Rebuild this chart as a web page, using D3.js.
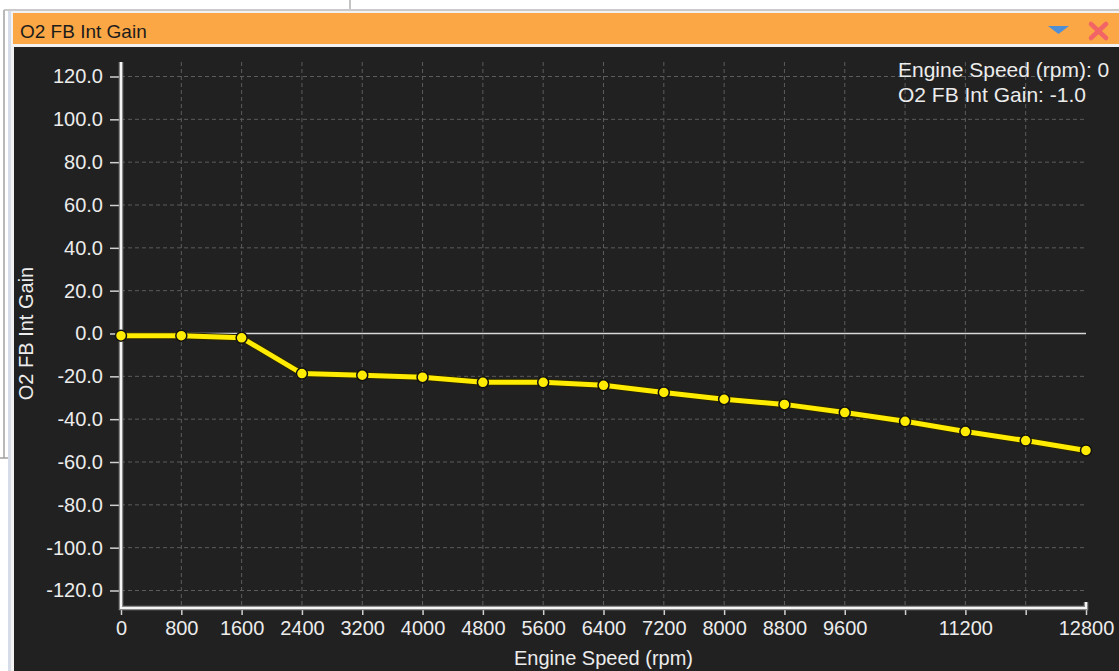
<!DOCTYPE html>
<html>
<head>
<meta charset="utf-8">
<script src="https://cdn.jsdelivr.net/npm/d3@7"></script>
<style>
  html, body { margin: 0; padding: 0; background: #ffffff; }
  svg { display: block; font-family: "Liberation Sans", Arial, sans-serif; }
</style>
</head>
<body>
<svg id="chart" width="1119" height="671"></svg>
<script>
// ---- data ----
const chartTitle = "O2 FB Int Gain";
const xTitle = "Engine Speed (rpm)";
const yTitle = "O2 FB Int Gain";
const rpm = [0, 800, 1600, 2400, 3200, 4000, 4800, 5600, 6400, 7200, 8000, 8800, 9600, 10400, 11200, 12000, 12800];
const gain = [-1.0, -1.0, -2.0, -18.7, -19.5, -20.4, -22.8, -22.8, -24.2, -27.5, -30.7, -33.1, -36.9, -41.0, -45.8, -50.0, -54.6];
const xTickValues = [0, 800, 1600, 2400, 3200, 4000, 4800, 5600, 6400, 7200, 8000, 8800, 9600, 10400, 11200, 12000, 12800];
const xTickLabels = ["0", "800", "1600", "2400", "3200", "4000", "4800", "5600", "6400", "7200", "8000", "8800", "9600", "", "11200", "", "12800"];
const yTickValues = [120, 100, 80, 60, 40, 20, 0, -20, -40, -60, -80, -100, -120];
const yTickLabels = ["120.0", "100.0", "80.0", "60.0", "40.0", "20.0", "0.0", "-20.0", "-40.0", "-60.0", "-80.0", "-100.0", "-120.0"];
const readoutLines = ["Engine Speed (rpm): 0", "O2 FB Int Gain: -1.0"];

const svg = d3.select("#chart");
const W = 1119, H = 671;

// ---- window chrome ----
svg.append("rect").attr("x", 0).attr("y", 0).attr("width", W).attr("height", H).attr("fill", "#ffffff");
svg.append("line").attr("x1", 4).attr("x2", 4).attr("y1", 10).attr("y2", 458).attr("stroke", "#a0a0a0").attr("stroke-width", 1.5);
svg.append("line").attr("x1", 0).attr("x2", 8).attr("y1", 458).attr("y2", 458).attr("stroke", "#a0a0a0").attr("stroke-width", 1.5);
svg.append("line").attr("x1", 4).attr("x2", W).attr("y1", 10).attr("y2", 10).attr("stroke", "#b8b8b8").attr("stroke-width", 1.5);
svg.append("line").attr("x1", 350).attr("x2", 350).attr("y1", 0).attr("y2", 9).attr("stroke", "#888").attr("stroke-width", 1);
// frame border
svg.append("rect").attr("x", 8).attr("y", 11).attr("width", W - 8).attr("height", H - 11).attr("fill", "#d6dde8");
svg.append("rect").attr("x", 11).attr("y", 11).attr("width", W - 11).attr("height", H - 11).attr("fill", "#f2f2f2");
// title bar
svg.append("rect").attr("x", 13).attr("y", 13).attr("width", W - 13).attr("height", 31).attr("fill", "#fba745");
svg.append("text").attr("x", 20).attr("y", 38).attr("font-size", 19).attr("fill", "#1c1c1c").text(chartTitle);
// blue triangle icon
svg.append("path").attr("d", "M1048,26 L1069,26 L1058.5,34 Z").attr("fill", "#4f8fd6");
// red x icon
const xg = svg.append("g").attr("stroke", "#f26466").attr("stroke-width", 4.5).attr("stroke-linecap", "round");
xg.append("line").attr("x1", 1091).attr("y1", 24).attr("x2", 1106).attr("y2", 38);
xg.append("line").attr("x1", 1106).attr("y1", 24).attr("x2", 1091).attr("y2", 38);
// dark plot background
svg.append("rect").attr("x", 14).attr("y", 47).attr("width", W - 14).attr("height", H - 47).attr("fill", "#212121");

// ---- scales ----
const x = d3.scaleLinear().domain([0, 12800]).range([121, 1086]);
const y = d3.scaleLinear().domain([-120, 120]).range([590.5, 76.5]);
const axisTop = 62, axisBottom = 608;

// ---- grid ----
const grid = svg.append("g");
grid.selectAll("line.vg").data(xTickValues.filter(v => v > 0 && v < 12800)).enter().append("line")
  .attr("x1", d => x(d)).attr("x2", d => x(d)).attr("y1", axisTop).attr("y2", axisBottom)
  .attr("stroke", "#5c5c5c").attr("stroke-width", 1).attr("stroke-dasharray", "4,3");
grid.selectAll("line.hg").data(yTickValues.filter(v => v !== 0)).enter().append("line")
  .attr("x1", x(0)).attr("x2", x(12800)).attr("y1", d => y(d)).attr("y2", d => y(d))
  .attr("stroke", "#5c5c5c").attr("stroke-width", 1).attr("stroke-dasharray", "4,3");
// zero line
svg.append("line").attr("x1", x(0)).attr("x2", x(12800)).attr("y1", y(0)).attr("y2", y(0))
  .attr("stroke", "#d8d8d8").attr("stroke-width", 1.5);

// ---- axes ----
const yAxis = d3.axisLeft(y).tickValues(yTickValues).tickFormat((d, i) => yTickLabels[i]).tickSize(9).tickPadding(7);
const gy = svg.append("g").attr("transform", `translate(${x(0) - 2},0)`).call(yAxis);
gy.select(".domain").remove();
gy.selectAll(".tick line").attr("stroke", "#d0d0d0").attr("stroke-width", 1.5);
gy.selectAll(".tick text").attr("fill", "#ececec").attr("font-size", 20)
  .attr("font-family", "'Liberation Sans', Arial, sans-serif");

const xAxis = d3.axisBottom(x).tickValues(xTickValues)
  .tickFormat((d, i) => xTickLabels[i]).tickSize(7).tickPadding(6);
const gx = svg.append("g").attr("transform", `translate(0,${axisBottom})`).call(xAxis);
gx.select(".domain").remove();
gx.selectAll(".tick line").attr("stroke", "#d0d0d0").attr("stroke-width", 1.5);
gx.selectAll(".tick text").attr("fill", "#ececec").attr("font-size", 20)
  .attr("font-family", "'Liberation Sans', Arial, sans-serif");

// axis lines (3D style)
const axisPath = `M${x(0)},${axisTop} L${x(0)},${axisBottom} L${x(12800)},${axisBottom} L${x(12800)},${axisBottom - 6}`;
svg.append("path").attr("d", axisPath).attr("fill", "none").attr("stroke", "#8a8a8a").attr("stroke-width", 4.5);
svg.append("path").attr("d", axisPath).attr("fill", "none").attr("stroke", "#f4f4f4").attr("stroke-width", 2);

// axis titles
svg.append("text").attr("x", (x(0) + x(12800)) / 2).attr("y", 665).attr("text-anchor", "middle")
  .attr("font-size", 20).attr("fill", "#ececec").text(xTitle);
svg.append("text").attr("transform", `translate(33,${y(0)}) rotate(-90)`).attr("text-anchor", "middle")
  .attr("font-size", 20).attr("fill", "#ececec").text(yTitle);

// ---- series ----
const pts = rpm.map((r, i) => [r, gain[i]]);
const line = d3.line().x(d => x(d[0])).y(d => y(d[1]));
svg.append("path").datum(pts).attr("d", line).attr("fill", "none")
  .attr("stroke", "#2a2600").attr("stroke-width", 7).attr("stroke-linejoin", "round");
svg.append("path").datum(pts).attr("d", line).attr("fill", "none")
  .attr("stroke", "#ffec00").attr("stroke-width", 5).attr("stroke-linejoin", "round");
svg.selectAll("circle.pt").data(pts).enter().append("circle")
  .attr("cx", d => x(d[0])).attr("cy", d => y(d[1])).attr("r", 5.5)
  .attr("fill", "#ffec00").attr("stroke", "#111").attr("stroke-width", 1.5);

// ---- readout ----
svg.append("g").selectAll("text").data(readoutLines).enter().append("text")
  .attr("x", 898).attr("y", (d, i) => 77 + i * 24.5)
  .attr("font-size", 21).attr("fill", "#ececec").text(d => d);
</script>
</body>
</html>
